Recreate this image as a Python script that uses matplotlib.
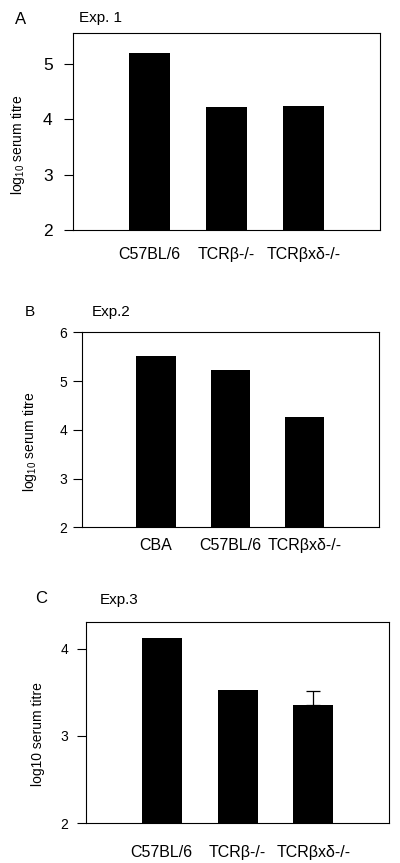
import matplotlib
matplotlib.use('Agg')
import matplotlib.pyplot as plt

plt.rcParams['font.family'] = ['Liberation Sans', 'DejaVu Sans']
plt.rcParams['mathtext.default'] = 'regular'

# Exp. 1
exp1_groups = ['C57BL/6', 'TCR\u03b2-/-', 'TCR\u03b2x\u03b4-/-']
exp1_titre = [5.2, 4.21, 4.23]

# Exp. 2
exp2_groups = ['CBA', 'C57BL/6', 'TCR\u03b2x\u03b4-/-']
exp2_titre = [5.52, 5.23, 4.26]

# Exp. 3 (only last group has an error bar)
exp3_groups = ['C57BL/6', 'TCR\u03b2-/-', 'TCR\u03b2x\u03b4-/-']
exp3_titre = [4.12, 3.53, 3.36]
exp3_err = [None, None, 0.16]

fig = plt.figure(figsize=(4.0, 8.63), dpi=100)

panels = [
    # rect, groups, values, err, ylim, yticks, ylabel, ytick pad, label xy, ytick fs, xtick pad
    ([0.182, 0.7335, 0.768, 0.228], exp1_groups, exp1_titre, None,
     (2, 5.55), [2, 3, 4, 5], 'log$_{10}$ serum titre', 8, (-0.178, 0.432), 12.5, 12),
    ([0.204, 0.389, 0.7435, 0.226], exp2_groups, exp2_titre, None,
     (2, 6), [2, 3, 4, 5, 6], 'log$_{10}$ serum titre', 4, (-0.174, 0.44), 10, 8),
    ([0.215, 0.0463, 0.758, 0.2333], exp3_groups, exp3_titre, exp3_err,
     (2, 4.31), [2, 3, 4], 'log10 serum titre', 6.5, (-0.157, 0.44), 10, 15.5),
]

for rect, groups, vals, err, ylim, yticks, ylab, pad, lab_xy, yfs, xpad in panels:
    ax = fig.add_axes(rect)
    x = list(range(len(groups)))
    ax.bar(x, vals, width=0.53, bottom=0, color='black')
    if err is not None:
        for xi, v, e in zip(x, vals, err):
            if e is None:
                continue
            ax.errorbar([xi], [v], yerr=[[0], [e]], fmt='none',
                        ecolor='black', elinewidth=0.9, capsize=5, capthick=0.9)
    ax.set_xlim(-1.0, 3.0)
    ax.set_ylim(*ylim)
    ax.set_yticks(yticks)
    ax.set_yticklabels([str(t) for t in yticks], fontsize=yfs)
    ax.set_xticks(x)
    ax.set_xticklabels(groups, fontsize=11.5)
    ax.tick_params(axis='x', length=0, pad=xpad)
    ax.tick_params(axis='y', length=6.5, width=0.8, pad=pad, direction='out')
    ax.set_ylabel(ylab, fontsize=10, va='center')
    ax.yaxis.set_label_coords(*lab_xy)
    for s in ax.spines.values():
        s.set_linewidth(0.8)

fig.text(0.052, 0.977, 'A', fontsize=12, ha='center', va='center')
fig.text(0.198, 0.979, 'Exp. 1', fontsize=11, ha='left', va='center')
fig.text(0.0625, 0.639, 'B', fontsize=11, ha='left', va='center')
fig.text(0.229, 0.638, 'Exp.2', fontsize=11, ha='left', va='center')
fig.text(0.0875, 0.3067, 'C', fontsize=12, ha='left', va='center')
fig.text(0.25, 0.305, 'Exp.3', fontsize=11, ha='left', va='center')

fig.savefig('out.png', dpi=100)
plt.close(fig)
